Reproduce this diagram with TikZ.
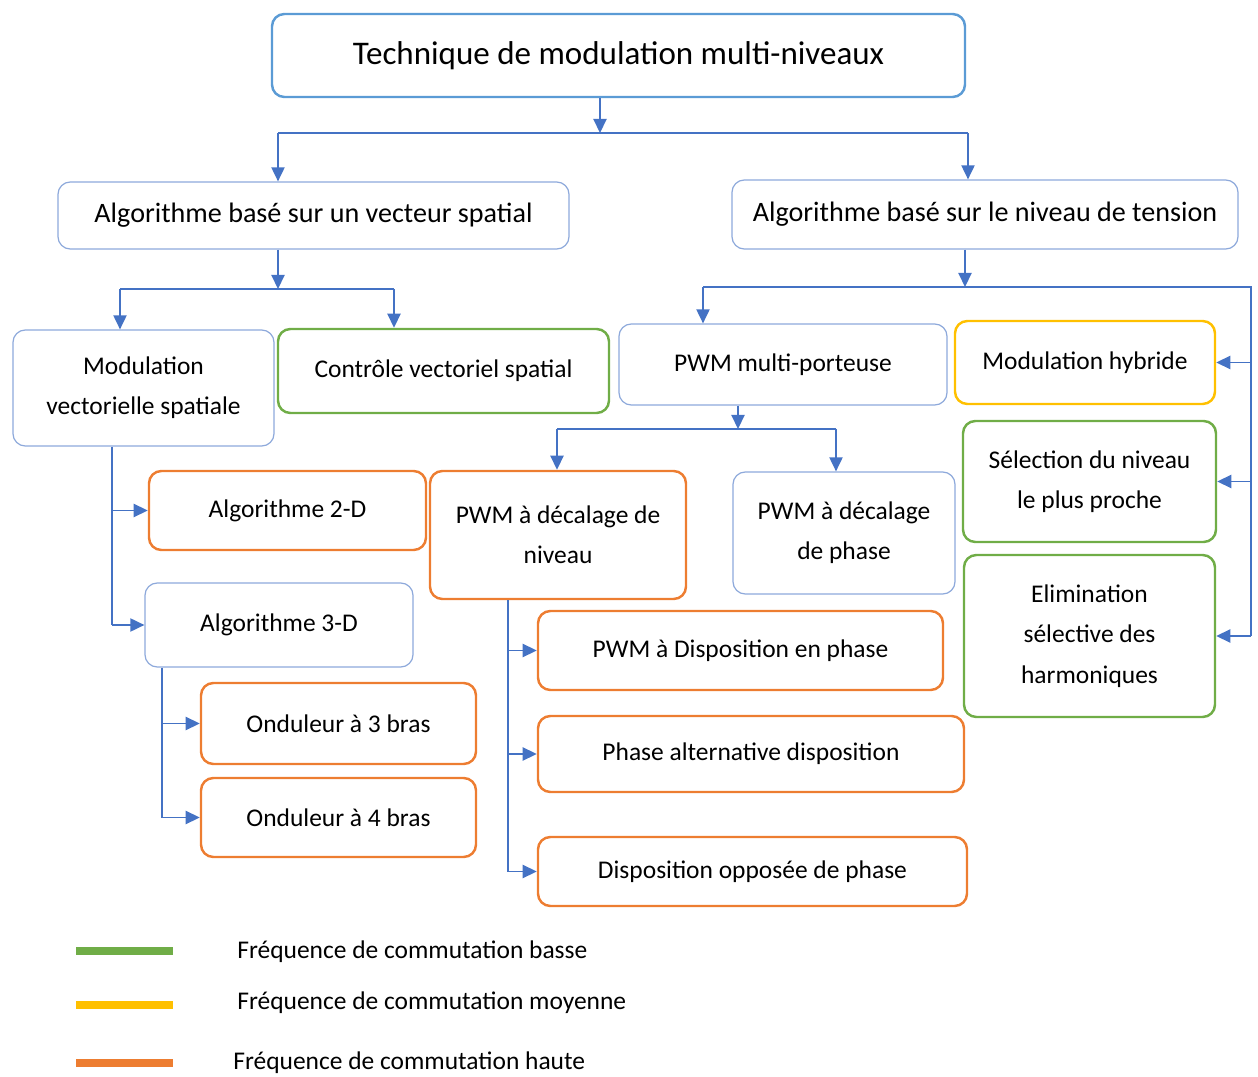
\documentclass[tikz,border=0pt]{standalone}
\usepackage{fontspec}
\setmainfont{Carlito}
\usetikzlibrary{arrows.meta}

\definecolor{linkblue}{HTML}{4472C4}
\definecolor{boxblue}{HTML}{8EA9DB}
\definecolor{topblue}{HTML}{5B9BD5}
\definecolor{lowgreen}{HTML}{70AD47}
\definecolor{midyellow}{HTML}{FFC000}
\definecolor{highorange}{HTML}{ED7D31}

\begin{document}
\begin{tikzpicture}[x = 0.02cm, y = -0.02cm,
		box/.style = {draw = boxblue, line width = 0.7pt, rounded corners = 7pt, align = center,
			inner sep = 0pt, font = \fontsize{14.5}{23}\selectfont},
		lowbox/.style = {box, draw = lowgreen, line width = 1.4pt},
		midbox/.style = {box, draw = midyellow, line width = 1.4pt},
		highbox/.style = {box, draw = highorange, line width = 1.4pt},
		size/.style 2 args = {minimum width = #1*0.02cm, minimum height = #2*0.02cm},
		link/.style = {draw = linkblue, line width = 0.9pt},
		arr/.style = {link, -{Triangle[length = 8pt, width = 7.5pt]}},
		legtext/.style = {anchor = west, inner sep = 0pt, font = \fontsize{14.5}{17}\selectfont}]
		\def\legwidth{4.5pt}
		\useasboundingbox (0,0) rectangle (1258,1077);
		%--------------------

		\node[box, size = {693}{83}, draw = topblue, line width = 1.4pt, font = \fontsize{18.8}{22}\selectfont]
			(top) at (618.5,55.5) {Technique de modulation multi-niveaux};

		\node[box, size = {511}{67}, font = \fontsize{16}{20}\selectfont] (abv) at (313.5,215.5) {Algorithme basé sur un vecteur spatial};
		\node[box, size = {506}{69}, font = \fontsize{16}{20}\selectfont] (abn) at (985,214.5) {Algorithme basé sur le niveau de tension};

		%--------------------
		\node[box, size = {261}{116}] (mvs) at (143.5,388) {Modulation\\vectorielle spatiale};
		\node[lowbox, size = {331}{84}] (cvs) at (443.5,371) {Contrôle vectoriel spatial};
		\node[box, size = {328}{81}] (pwmm) at (783,364.5) {PWM multi-porteuse};
		\node[midbox, size = {260}{83}] (mh) at (1085,362.5) {Modulation hybride};
		\node[lowbox, size = {253}{121}] (snp) at (1089.5,481.5) {Sélection du niveau\\le plus proche};
		\node[lowbox, size = {251}{162}] (esh) at (1089.5,636) {Elimination\\sélective des\\harmoniques};

		%--------------------
		\node[highbox, size = {277}{79}] (a2d) at (287.5,510.5) {Algorithme 2-D};
		\node[box, size = {268}{84}] (a3d) at (279,625) {Algorithme 3-D};
		\node[highbox, size = {275}{81}] (o3) at (338.5,723.5) {Onduleur à 3 bras};
		\node[highbox, size = {275}{79}] (o4) at (338.5,817.5) {Onduleur à 4 bras};

		\node[highbox, size = {256}{128}] (pwmdn) at (558,535) {PWM à décalage de\\niveau};
		\node[box, size = {222}{122}] (pwmdp) at (844,533) {PWM à décalage\\de phase};
		\node[highbox, size = {405}{79}] (pdp) at (740.5,650.5) {PWM à Disposition en phase};
		\node[highbox, size = {426}{76}] (pad) at (751,754) {Phase alternative disposition};
		\node[highbox, size = {429}{69}] (dop) at (752.5,871.5) {Disposition opposée de phase};

		%--------------------
		\coordinate (t0) at (600,133);
		\coordinate (t1) at (278,133);
		\coordinate (t2) at (968,133);
		\draw[arr] (top.south -| t0) -- (t0);
		\draw[link] (t1) -- (t2);
		\draw[arr] (t1) -- (t1 |- abv.north);
		\draw[arr] (t2) -- (t2 |- abn.north);

		\coordinate (s0) at (278,289);
		\coordinate (s1) at (120,289);
		\coordinate (s2) at (394,289);
		\draw[arr] (abv.south -| s0) -- (s0);
		\draw[link] (s1) -- (s2);
		\draw[arr] (s1) -- (s1 |- mvs.north);
		\draw[arr] (s2) -- (s2 |- cvs.north);

		\coordinate (n0) at (965,287);
		\coordinate (n1) at (703,287);
		\coordinate (n2) at (1251,287);
		\draw[arr] (abn.south -| n0) -- (n0);
		\draw[link] (n1) -- (n2) -- (n2 |- esh.east);
		\draw[arr] (n1) -- (n1 |- pwmm.north);
		\draw[arr] (n2 |- mh.east) -- (mh.east);
		\draw[arr] (n2 |- snp.east) -- (snp.east);
		\draw[arr] (n2 |- esh.east) -- (esh.east);

		\coordinate (p0) at (738,429);
		\coordinate (p1) at (557,429);
		\coordinate (p2) at (836,429);
		\draw[arr] (pwmm.south -| p0) -- (p0);
		\draw[link] (p1) -- (p2);
		\draw[arr] (p1) -- (p1 |- pwmdn.north);
		\draw[arr] (p2) -- (p2 |- pwmdp.north);

		%--------------------
		\coordinate (m0) at (112,0);
		\draw[link] (mvs.south -| m0) -- (m0 |- a3d.west);
		\draw[arr] (m0 |- a2d.west) -- (a2d.west);
		\draw[arr] (m0 |- a3d.west) -- (a3d.west);

		\coordinate (q0) at (162,0);
		\draw[link] (a3d.south -| q0) -- (q0 |- o4.west);
		\draw[arr] (q0 |- o3.west) -- (o3.west);
		\draw[arr] (q0 |- o4.west) -- (o4.west);

		\coordinate (r0) at (508,0);
		\draw[link] (pwmdn.south -| r0) -- (r0 |- dop.west);
		\draw[arr] (r0 |- pdp.west) -- (pdp.west);
		\draw[arr] (r0 |- pad.west) -- (pad.west);
		\draw[arr] (r0 |- dop.west) -- (dop.west);

		%--------------------
		\draw[lowgreen, line width = \legwidth] (76,951) -- (173,951);
		\draw[midyellow, line width = \legwidth] (76,1005) -- (173,1005);
		\draw[highorange, line width = \legwidth] (76,1063) -- (173,1063);
		\node[legtext] (leglow) at (237,952) {Fréquence de commutation basse};
		\node[legtext] (legmid) at (237,1003) {Fréquence de commutation moyenne};
		\node[legtext] (leghigh) at (233,1063) {Fréquence de commutation haute};
\end{tikzpicture}
\end{document}
